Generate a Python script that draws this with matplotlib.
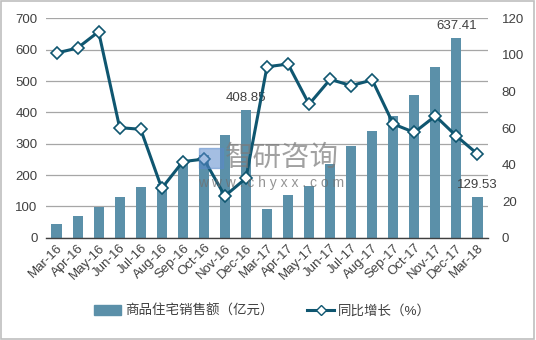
import matplotlib.pyplot as plt
import matplotlib.patches as mpatches
from matplotlib.lines import Line2D

plt.rcParams['font.family'] = ['Liberation Sans', 'Noto Sans CJK SC']

months = ['Mar-16', 'Apr-16', 'May-16', 'Jun-16', 'Jul-16', 'Aug-16', 'Sep-16',
          'Oct-16', 'Nov-16', 'Dec-16', 'Mar-17', 'Apr-17', 'May-17', 'Jun-17',
          'Jul-17', 'Aug-17', 'Sep-17', 'Oct-17', 'Nov-17', 'Dec-17', 'Mar-18']
sales = [44, 69, 99, 129, 161, 170, 240, 265, 328, 408.85, 90, 135, 164, 235,
         294, 340, 389, 455, 544, 637.41, 129.53]
growth = [101, 103.8, 112.7, 60.2, 59.3, 27, 41.6, 43, 22.8, 32.5, 93.5, 95,
          73, 86.6, 83.2, 86.3, 62.2, 57.6, 66.6, 55.6, 45.8]
labelled = {'Dec-16': '408.85', 'Dec-17': '637.41', 'Mar-18': '129.53'}

bar_color = '#5B90A9'
line_color = '#0F5670'

fig = plt.figure(figsize=(5.36, 3.4), dpi=100)
ax = fig.add_axes([0.0858, 0.301, 0.8246, 0.645])
ax2 = ax.twinx()

x = list(range(len(months)))
ax.bar(x, sales, width=0.48, color=bar_color, zorder=2)
ax.set_ylim(0, 700)
ax.set_yticks(range(0, 701, 100))
ax.set_xlim(-0.5, len(months) - 0.5)
ax.grid(axis='y', color='#A6A6A6', linewidth=0.9, zorder=0)
ax.set_axisbelow(True)

for i, m in enumerate(months):
    if m in labelled:
        ax.text(i, sales[i] + 18, labelled[m], ha='center', va='bottom',
                fontsize=9.5, color='#404040', zorder=5)

ax2.plot(x, growth, color=line_color, linewidth=2.2, marker='D', markersize=6.5,
         markerfacecolor='white', markeredgecolor=line_color, markeredgewidth=1.2,
         zorder=4)
ax2.set_ylim(0, 120)
ax2.set_yticks(range(0, 121, 20))

ax.set_xticks(x)
ax.set_xticklabels(months, rotation=45, ha='right', rotation_mode='anchor',
                   fontsize=9.5, color='#404040')
for a in (ax, ax2):
    for s in a.spines.values():
        s.set_visible(False)
    a.tick_params(length=0, labelsize=9.5, labelcolor='#404040')
ax.spines['bottom'].set_visible(True)
ax.spines['bottom'].set_color('#404040')
ax.spines['bottom'].set_linewidth(1.0)
ax.tick_params(axis='y', pad=6)
ax2.tick_params(axis='y', pad=10)
ax.tick_params(axis='x', pad=3)
ax.set_zorder(ax2.get_zorder() - 1)
ax2.patch.set_visible(False)

# watermark
fig.patches.append(mpatches.Rectangle((0.371, 0.506), 0.045, 0.059,
                                      transform=fig.transFigure, color='#5A8ACB',
                                      alpha=0.55, zorder=3))
fig.text(0.42, 0.532, '智研咨询', fontsize=20.5, color='#7A7A7A', alpha=0.7,
         ha='left', va='center', zorder=6)
fig.text(0.369, 0.462, 'w w w . c h y x x . c o m', fontsize=10,
         color='#707070', alpha=0.75, ha='left', va='center', zorder=6)

handles = [mpatches.Patch(color=bar_color),
           Line2D([], [], color=line_color, linewidth=2.2, marker='D', markersize=5,
                  markerfacecolor='white', markeredgecolor=line_color)]
fig.legend(handles, ['商品住宅销售额（亿元）', '同比增长（%）'], loc='center',
           bbox_to_anchor=(0.49, 0.085), ncol=2, frameon=False, fontsize=9.7,
           handlelength=2.0, handleheight=0.7, columnspacing=2.5, handletextpad=0.3,
           labelcolor='#404040')

fig.patches.append(mpatches.Rectangle((0.002, 0.003), 0.995, 0.994,
                                      transform=fig.transFigure, fill=False,
                                      edgecolor='#BFBFBF', linewidth=1.2))

fig.savefig('out.png', dpi=100)
